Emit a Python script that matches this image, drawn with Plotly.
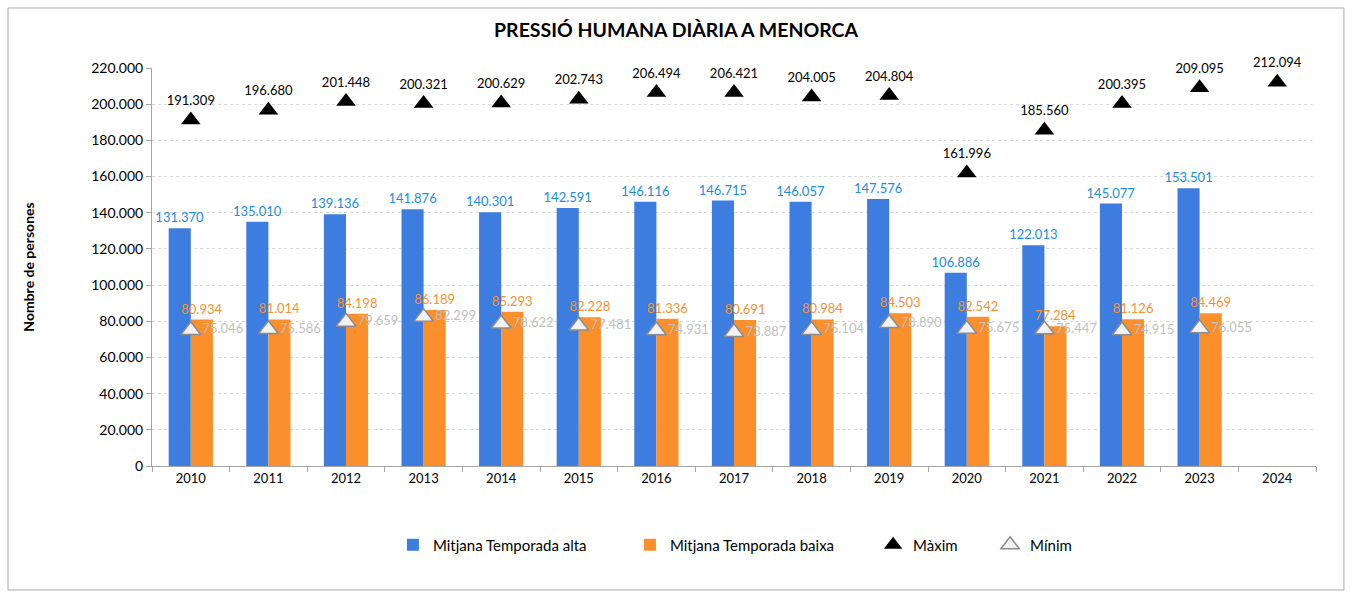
import plotly.graph_objects as go

# -----------------------------
# Data
# -----------------------------
years = [str(y) for y in range(2010, 2025)]
alta = [131370, 135010, 139136, 141876, 140301, 142591, 146116, 146715,
        146057, 147576, 106886, 122013, 145077, 153501, None]
baixa = [80934, 81014, 84198, 86189, 85293, 82228, 81336, 80691,
         80984, 84503, 82542, 77284, 81126, 84469, None]
maxim = [191309, 196680, 201448, 200321, 200629, 202743, 206494, 206421,
         204005, 204804, 161996, 185560, 200395, 209095, 212094]
minim = [75046, 75586, 79659, 82299, 78622, 77481, 74931, 73887,
         75104, 78890, 75675, 75447, 74915, 76055, None]
y_ticks = list(range(0, 220001, 20000))

FONT = "Lato"

fig = go.Figure()

fig.add_bar(
    x=years, y=alta, name="Mitjana Temporada alta",
    marker=dict(color="#3d7ddf", line=dict(width=0)),
    texttemplate="%{y:,.0f}", textposition="outside", constraintext="none",
    textfont=dict(color="#1a8de0", size=13, family=FONT),
    cliponaxis=False, legend="legend",
)
fig.add_bar(
    x=years, y=baixa, name="Mitjana Temporada baixa",
    marker=dict(color="#fb8f2c", line=dict(width=0)),
    texttemplate="%{y:,.0f}", textposition="outside", constraintext="none",
    textfont=dict(color="#f7922e", size=13, family=FONT),
    cliponaxis=False, legend="legend",
)
fig.add_scatter(
    x=years, y=maxim, name="Màxim", mode="markers+text",
    marker=dict(symbol="triangle-up", size=17, color="black"),
    texttemplate="%{y:,.0f}", textposition="top center",
    textfont=dict(color="black", size=13, family=FONT),
    cliponaxis=False, legend="legend2",
)
fig.add_scatter(
    x=years, y=minim, name="Mínim", mode="markers+text",
    marker=dict(symbol="triangle-up", size=17, color="#f2f2f2",
                line=dict(color="#8c8c8c", width=1.5)),
    texttemplate="%{y:,.0f}", textposition="middle right",
    textfont=dict(color="#bfbfbf", size=13, family=FONT),
    cliponaxis=False, legend="legend2",
)

fig.update_layout(
    width=1352, height=597,
    margin=dict(l=152, r=36, t=68, b=131),
    paper_bgcolor="white", plot_bgcolor="white",
    separators=",.",
    barmode="group", bargap=0.43, bargroupgap=0,
    font=dict(family=FONT, size=13, color="black"),
    title=dict(text="<b>PRESSIÓ HUMANA DIÀRIA A MENORCA</b>",
               x=0.5, xanchor="center", y=0.95, yanchor="middle",
               font=dict(size=19.5, family=FONT, color="black")),
    legend=dict(orientation="h", x=0.207, xanchor="left", y=-0.1985, yanchor="middle",
                font=dict(size=15, family=FONT), entrywidth=192, traceorder="normal"),
    legend2=dict(orientation="h", x=0.6195, xanchor="left", y=-0.1985, yanchor="middle",
                 font=dict(size=15, family=FONT), entrywidth=72, traceorder="normal"),
    showlegend=True,
)

fig.update_xaxes(
    type="category", range=[-0.5, 14.5], showline=True, linecolor="#a6a6a6", linewidth=1,
    ticks="outside", tickson="boundaries", ticklen=5, tickcolor="#a6a6a6",
    showgrid=False, tickfont=dict(size=13),
)
fig.update_yaxes(
    range=[0, 220000], tickvals=y_ticks, tickformat=",.0f",
    showline=True, linecolor="#a6a6a6", linewidth=1,
    ticks="outside", ticklen=5, tickcolor="#a6a6a6",
    showgrid=True, gridcolor="#d9d9d9", griddash="dot", zeroline=False,
    tickfont=dict(size=14),
    title=dict(text="<b>Nombre de persones</b>", font=dict(size=14), standoff=53),
)

# outer border of the chart
fig.add_shape(type="rect", xref="paper", yref="paper",
              x0=-0.1237, x1=1.024, y0=-0.3116, y1=1.1508,
              line=dict(color="#a6a6a6", width=1), layer="below")

fig.write_html("out.html", config={"displayModeBar": False},
               post_script="document.body.style.margin='0';")
